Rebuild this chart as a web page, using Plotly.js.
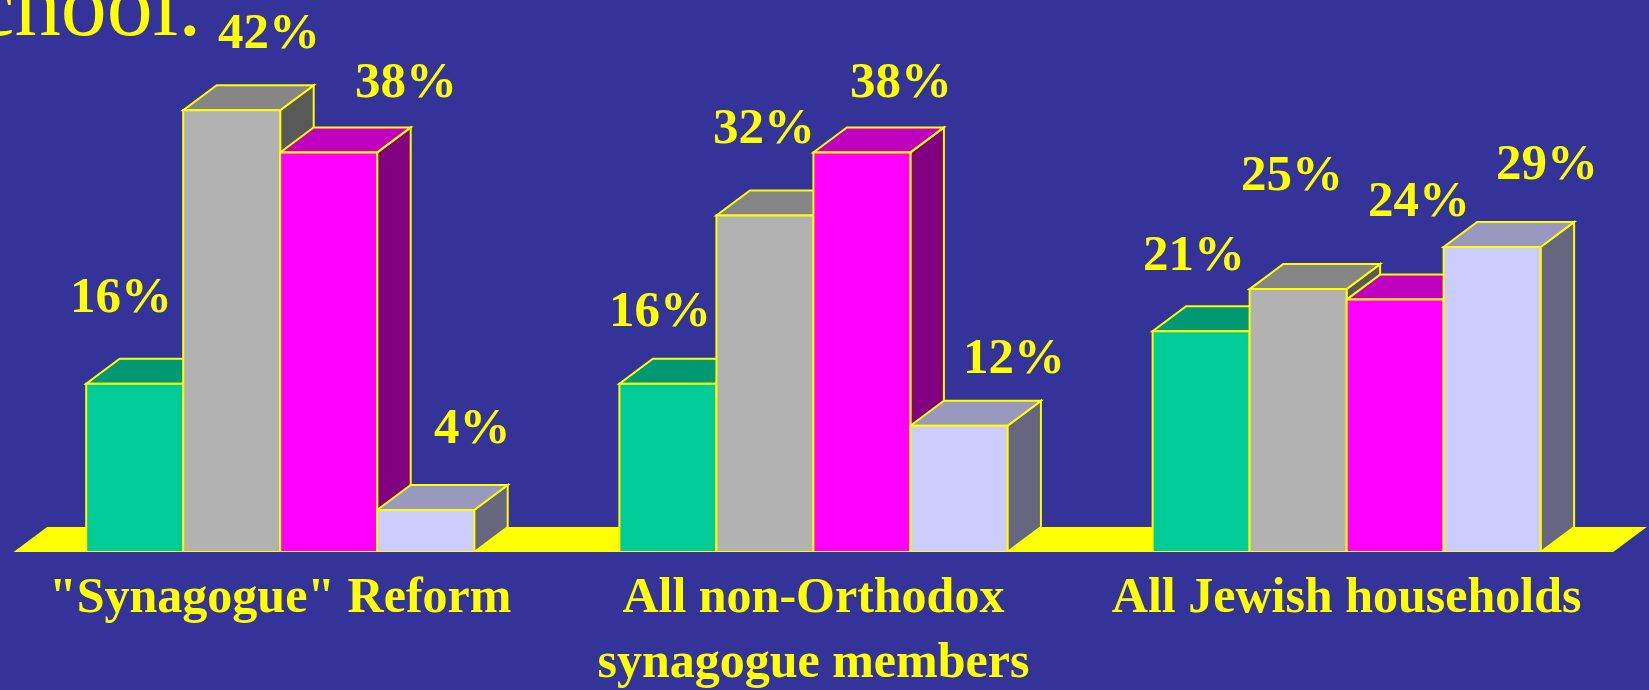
<!DOCTYPE html>
<html>
<head>
<meta charset="utf-8">
<script src="https://cdn.plot.ly/plotly-3.0.1.min.js"></script>
<style>
  html, body { margin: 0; padding: 0; background: #333399; }
  #chart { width: 1649px; height: 690px; }
</style>
</head>
<body>
<div id="chart"></div>
<script>
// ---- data ----
const categories = ['"Synagogue" Reform', 'All non-Orthodox<br>synagogue members', 'All Jewish households'];
const seriesA = [16, 16, 21];
const seriesB = [42, 32, 25];
const seriesC = [38, 38, 24];
const seriesD = [4, 12, 29];
const titleFragment = 'school.';

// ---- styles ----
const seriesList = [seriesA, seriesB, seriesC, seriesD];
const frontColors = ['#00CC99', '#B2B2B2', '#FF00FF', '#CCCCFF'];
const topColors   = ['#009973', '#868686', '#BF00BF', '#9999BF'];
const sideColors  = ['#006650', '#595959', '#800080', '#666680'];
const edge = '#FFFF00';
const bg = '#333399';
const fontFam = '"Liberation Serif", "Times New Roman", Times, serif';
// label offsets in pixels from bar front-top centre [dx, dy] per series per group
const labelShift = [
  [[-14, 89], [-8, 75], [-7, 78]],
  [[37, 79], [-1, 89], [-6, 116]],
  [[77, 72], [39, 72], [24, 101]],
  [[47, 84], [55, 70], [55, 85]]
];

const W = 1649, H = 690;
const marginB = 138;
const plotH = H - marginB;
const yMax = 52.49;
const xRange = [-0.5255, 2.5671];
const pxPerX = W / (xRange[1] - xRange[0]);
const pxPerY = plotH / yMax;
const depthX = 33.5 / pxPerX;
const depthY = 25 / pxPerY;
const groupWidth = 0.7277;
const barW = groupWidth / 4;

const traces = seriesList.map((vals, i) => ({
  type: 'bar',
  x: vals.map((_, g) => g),
  y: vals,
  width: barW,
  offset: -groupWidth / 2 + i * barW,
  marker: { color: frontColors[i], line: { color: edge, width: 2 } },
  hoverinfo: 'skip',
  showlegend: false
}));

const shapes = [];
// floor
shapes.push({
  type: 'path', xref: 'x', yref: 'y', layer: 'below',
  path: `M ${-0.5},0 L ${2.5},0 L ${2.5 + depthX},${depthY} L ${-0.5 + depthX},${depthY} Z`,
  fillcolor: '#FFFF00', line: { width: 0 }
});
for (let g = 0; g < categories.length; g++) {
  seriesList.forEach((vals, i) => {
    const v = vals[g];
    const xl = g - groupWidth / 2 + i * barW;
    const xr = xl + barW;
    shapes.push({
      type: 'path', xref: 'x', yref: 'y', layer: 'below',
      path: `M ${xr},0 L ${xr + depthX},${depthY} L ${xr + depthX},${v + depthY} L ${xr},${v} Z`,
      fillcolor: sideColors[i], line: { color: edge, width: 2 }
    });
    shapes.push({
      type: 'path', xref: 'x', yref: 'y', layer: 'below',
      path: `M ${xl},${v} L ${xr},${v} L ${xr + depthX},${v + depthY} L ${xl + depthX},${v + depthY} Z`,
      fillcolor: topColors[i], line: { color: edge, width: 2 }
    });
  });
}

const annotations = [];
seriesList.forEach((vals, i) => {
  vals.forEach((v, g) => {
    const xc = g - groupWidth / 2 + (i + 0.5) * barW;
    annotations.push({
      x: xc, y: v, xref: 'x', yref: 'y',
      text: v + '%', showarrow: false,
      xanchor: 'center', yanchor: 'middle',
      xshift: labelShift[i][g][0], yshift: labelShift[i][g][1],
      font: { family: fontFam, size: 51, color: '#FFFF00', weight: 'bold' }
    });
  });
});
annotations.push({
  xref: 'paper', yref: 'paper', x: 203 / W, y: (plotH - 57) / plotH,
  xanchor: 'right', yanchor: 'bottom', showarrow: false,
  text: titleFragment,
  font: { family: fontFam, size: 92, color: '#FFFF00' }
});

const layout = {
  width: W, height: H,
  margin: { l: 0, r: 0, t: 0, b: marginB, pad: 0 },
  paper_bgcolor: bg, plot_bgcolor: bg,
  barmode: 'overlay',
  showlegend: false,
  xaxis: {
    range: xRange, showgrid: false, zeroline: false, showline: false,
    tickvals: categories.map((_, g) => g), ticktext: categories,
    ticks: '', ticklabelstandoff: 9,
    tickfont: { family: fontFam, size: 50, color: '#FFFF00', weight: 'bold' },
    fixedrange: true
  },
  yaxis: {
    range: [0, yMax], showgrid: false, zeroline: false, showline: false,
    showticklabels: false, ticks: '', fixedrange: true
  },
  shapes: shapes,
  annotations: annotations
};

Plotly.newPlot('chart', traces, layout, { displayModeBar: false, staticPlot: true });
</script>
</body>
</html>
